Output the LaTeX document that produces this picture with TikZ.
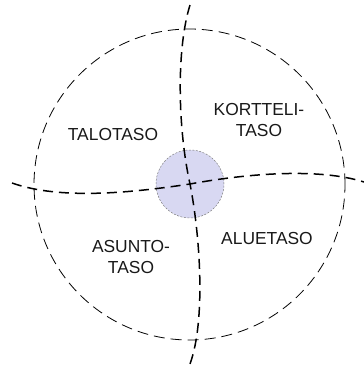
\documentclass[tikz,border=0pt]{standalone}
\usepackage{fontspec}
\setmainfont{Liberation Sans}
\definecolor{corefill}{RGB}{216,216,242}

\begin{document}
\begin{tikzpicture}[x=1pt, y=-1pt,
    ring/.style={circle, draw, inner sep=0pt, line width=0.8pt, dash pattern=on 11pt off 6pt},
    axis/.style={line width=1.5pt, dash pattern=on 10pt off 6pt},
    level/.style={font=\fontsize{17.4}{21.5}\selectfont, align=center, text=black!90}]
  \useasboundingbox (0, 0) rectangle (364, 367);

  % Outer ring and the core
  \node[ring, minimum size=311pt] (outer) at (189.5, 184.5) {};
  \node[circle, fill=corefill, draw=gray, line width=0.5pt, dash pattern=on 2pt off 1.5pt,
        minimum size=68pt, inner sep=0pt] (core) at (190, 184) {};

  % End points of the two dividing lines
  \coordinate (ntop) at (190, 5);
  \coordinate (nbot) at (190, 364);
  \coordinate (wend) at (12, 183);
  \coordinate (eend) at (364, 182);

  \draw[axis] (ntop) .. controls (176, 50) and (178, 130) .. (core.center)
    .. controls (200, 235) and (206, 320) .. (nbot);
  \draw[axis] (wend) .. controls (60, 200) and (130, 193) .. (core.center)
    .. controls (250, 173) and (320, 168) .. (eend);

  % Levels
  \node[level] (talo) at (113, 135) {TALOTASO};
  \node[level] (kortteli) at (259, 120) {KORTTELI-\\TASO};
  \node[level] (asunto) at (131, 257) {ASUNTO-\\TASO};
  \node[level] (alue) at (267, 239) {ALUETASO};
\end{tikzpicture}
\end{document}
